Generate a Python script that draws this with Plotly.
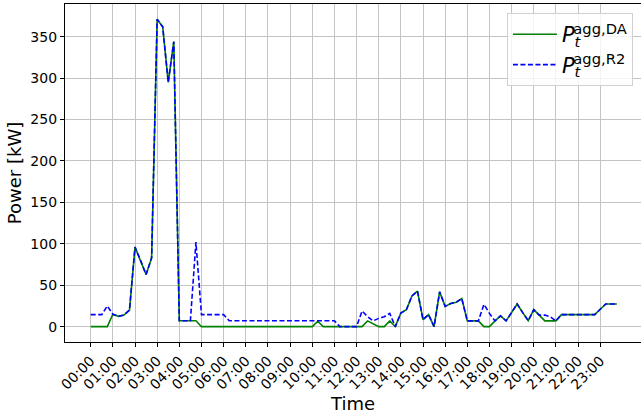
import plotly.graph_objects as go

# 15-minute steps over one day (96 points)
step_index = list(range(96))
tick_positions = list(range(0, 96, 4))
tick_labels = [f"{h:02d}:00" for h in range(24)]

p_da = [0, 0, 0, 0, 15, 12.5, 14, 20, 96, 80, 63, 83,
        371, 362, 295, 344, 7.2, 7.2, 7.2, 7.2,
        0, 0, 0, 0, 0, 0, 0, 0, 0, 0, 0, 0, 0, 0, 0, 0, 0, 0, 0, 0,
        0, 6.5, 0, 0, 0, 0, 0, 0, 0, 0,
        7, 3.5, 0, 0, 7, 0, 16.5, 20.5, 37, 43, 8.5, 14.5,
        0, 42, 24.5, 28, 29.5, 34, 7, 7, 7, 0, 0, 7, 13, 7, 17, 27.4,
        17, 7.3, 20.5, 13.5, 7, 7, 7,
        14.5, 14.5, 14.5, 14.5, 14.5, 14.5, 14.5, 21, 27.4, 27.4, 27.4]

p_r2 = [14.5, 14.5, 14.5, 25, 15, 12.5, 14, 20, 96, 80, 63, 83,
        371, 362, 295, 344, 7.2, 7.2, 7.2, 102,
        14.5, 14.5, 14.5, 14.5, 14.5, 7.2, 7.2, 7.2, 7.2, 7.2, 7.2, 7.2,
        7.2, 7.2, 7.2, 7.2, 7.2, 7.2, 7.2, 7.2, 7.2, 7.2, 7.2, 7.2, 7.2,
        0, 0, 0, 0, 19,
        12, 7, 10, 12, 16, 0, 16.5, 20.5, 37, 43, 8.5, 14.5,
        0, 42, 24.5, 28, 29.5, 34, 7, 7, 7, 27, 16, 7, 13, 7, 17, 27.4,
        17, 7.3, 20.5, 14, 14, 12, 7,
        14.5, 14.5, 14.5, 14.5, 14.5, 14.5, 14.5, 21, 27.4, 27.4, 27.4]

name_da = "<i>P</i><sub><span style='letter-spacing:-7px'><i>t</i></span></sub><sup>agg,DA</sup>"
name_r2 = "<i>P</i><sub><span style='letter-spacing:-7px'><i>t</i></span></sub><sup>agg,R2</sup>"

fig = go.Figure()
fig.add_trace(go.Scatter(x=step_index, y=p_da, mode="lines", name=name_da,
                         line=dict(color="#008000", width=1.6)))
fig.add_trace(go.Scatter(x=step_index, y=p_r2, mode="lines", name=name_r2,
                         line=dict(color="#0000ff", width=1.6, dash="5px,2.5px")))

font_family = "DejaVu Sans, sans-serif"
fig.update_layout(
    width=641, height=417,
    margin=dict(l=65, r=0, t=4, b=75),
    paper_bgcolor="white", plot_bgcolor="white",
    font=dict(family=font_family, color="black"),
    legend=dict(x=0.986, y=0.973, xanchor="right", yanchor="top",
                bgcolor="rgba(255,255,255,0.8)", bordercolor="#d0d0d0",
                borderwidth=1, font=dict(size=21, family=font_family),
                itemwidth=44, tracegroupgap=4),
    showlegend=True,
)
fig.update_xaxes(
    range=[-4.64, 99.36], tickmode="array", tickvals=tick_positions,
    ticktext=tick_labels, tickangle=-45, tickfont=dict(size=14),
    showgrid=True, gridcolor="#c4c4c4", gridwidth=1.2,
    showline=True, linecolor="black", linewidth=1.2, mirror=True,
    ticks="outside", ticklen=4, tickcolor="black", zeroline=False,
    title=dict(text="Time", font=dict(size=18), standoff=0),
    automargin=False,
)
fig.update_yaxes(
    range=[-18.5, 389.5], tickvals=[0, 50, 100, 150, 200, 250, 300, 350],
    tickfont=dict(size=14),
    showgrid=True, gridcolor="#c4c4c4", gridwidth=1.2,
    showline=True, linecolor="black", linewidth=1.2, mirror=False,
    ticks="outside", ticklen=4, tickcolor="black", zeroline=False,
    title=dict(text="Power [kW]", font=dict(size=18), standoff=4),
    automargin=False,
)

fig.write_html("out.html", config={"displayModeBar": False},
               post_script="document.body.style.margin='0';document.body.style.padding='0';")
